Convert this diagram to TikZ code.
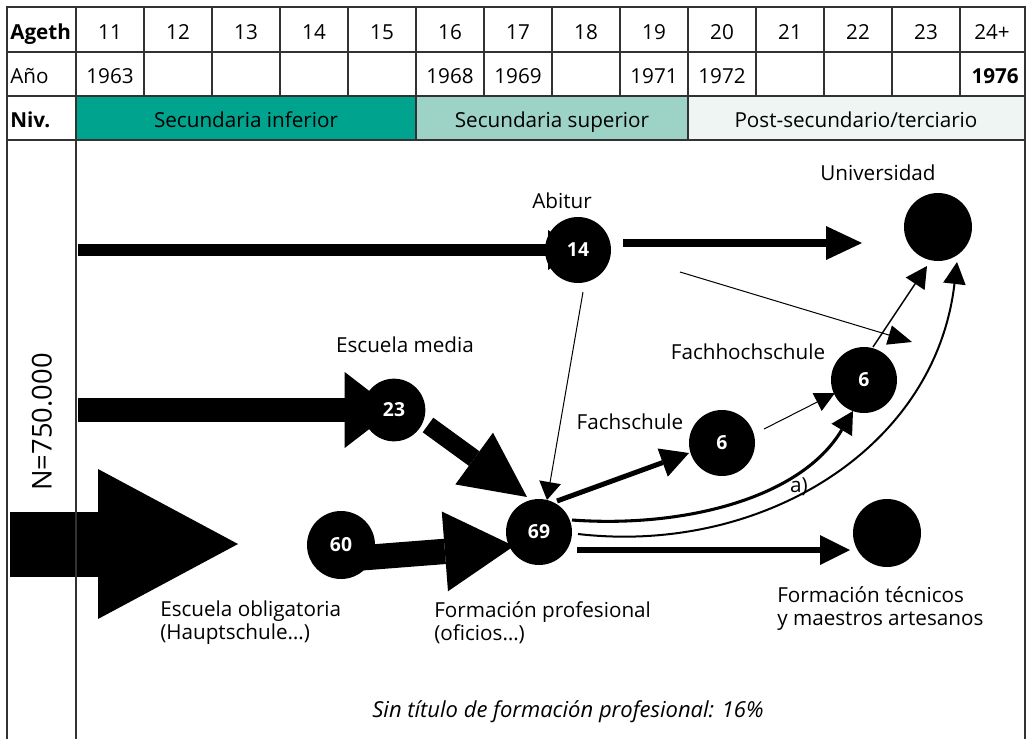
\documentclass[tikz,border=0pt]{standalone}
\usepackage{fontspec}
\setmainfont{Open Sans}
\usetikzlibrary{arrows.meta,calc,backgrounds}
\definecolor{tealA}{RGB}{0,163,141}
\definecolor{tealB}{RGB}{157,211,198}
\definecolor{tealC}{RGB}{238,245,242}
\definecolor{gridc}{RGB}{50,50,50}
\begin{document}
\begin{tikzpicture}[x=0.75pt,y=-0.75pt,
  grid/.style={draw=gridc,line width=0.9pt},
  cell/.style={font=\fontsize{15.5}{18}\selectfont,inner sep=0pt,anchor=base},
  lbl/.style={font=\fontsize{15.5}{17.25}\selectfont,align=left,inner sep=0pt,anchor=base},
  dot/.style={circle,fill=black,minimum size=49.5pt,inner sep=0pt,text=white,font=\bfseries\fontsize{14.5}{16}\selectfont},
  tip/.style n args={2}{-{Triangle[length=#1,width=#2,line width=0pt]}}
]
\useasboundingbox (0,0) rectangle (1028,739);
% table fills
\fill[tealA] (76,96) rectangle (416,140);
\fill[tealB] (416,96) rectangle (688,140);
\fill[tealC] (688,96) rectangle (1025,140);
% grid
\draw[grid] (7,739) -- (7,7) -- (1025,7) -- (1025,739);
\draw[grid] (7,52) -- (1025,52);
\draw[grid] (7,96) -- (1025,96);
\draw[grid] (7,140) -- (1025,140);
\draw[grid] (76,7) -- (76,739);
\foreach \x in {144,212,...,960} \draw[grid] (\x,7) -- (\x,96);
\draw[grid] (416,96) -- (416,140);
\draw[grid] (688,96) -- (688,140);
% row headers
\node[cell,anchor=base west,font=\bfseries\fontsize{15.5}{18}\selectfont] (hAge) at (10,39) {Ageth};
\node[cell,anchor=base west] (hAno) at (10,83) {Año};
\node[cell,anchor=base west,font=\bfseries\fontsize{15.5}{18}\selectfont] (hNiv) at (10,127) {Niv.};
% ages
\foreach \a [count=\i from 0] in {11,12,...,23} {
  \node[cell] (age\a) at (110+68*\i,39) {\a};
}
\node[cell] (age24) at (992,39) {24+};
% years
\node[cell] (y63) at (110,83) {1963};
\node[cell] (y68) at (450,83) {1968};
\node[cell] (y69) at (518,83) {1969};
\node[cell] (y71) at (654,83) {1971};
\node[cell] (y72) at (722,83) {1972};
\node[cell,anchor=base east,font=\bfseries\fontsize{15.5}{18}\selectfont] (y76) at (1019,83) {1976};
% levels
\node[cell] (lv1) at (246,127) {Secundaria inferior};
\node[cell] (lv2) at (552,127) {Secundaria superior};
\node[cell] (lv3) at (856,127) {Post-secundario/terciario};
% side label
\node[rotate=90,inner sep=0pt,font=\fontsize{20.5}{24}\selectfont] (nlab) at (42,422) {N=750.000};
% circles
\node[dot] (n14) at (578,250) {14};
\node[dot,minimum size=51pt] (uni) at (938,227) {};
\node[dot] (fh) at (864,380) {6};
\node[dot] (fs) at (722,443) {6};
\node[dot] (n69) at (539,532) {69};
\node[dot,minimum size=51pt] (ft) at (887,533) {};
\node[dot,minimum size=47pt] (n23) at (394,410) {23};
\node[dot,minimum size=51pt] (n60) at (341,545) {60};
% labels
\node[lbl] (lAbi) at (562,208) {Abitur};
\node[lbl] (lUni) at (878,180) {Universidad};
\node[lbl] (lEm) at (405,352) {Escuela media};
\node[lbl] (lFh) at (748,359) {Fachhochschule};
\node[lbl] (lFs) at (630,429) {Fachschule};
\node[lbl,anchor=north west] (lOb) at (160,601) {Escuela obligatoria\\(Hauptschule…)};
\node[lbl,anchor=north west] (lFp) at (434,601) {Formación profesional\\(oficios…)};
\node[lbl,anchor=north west] (lFt) at (777,586) {Formación técnicos\\y maestros artesanos};
\node[lbl] (la) at (799,492) {a)};
\node[lbl,font=\itshape\fontsize{16.5}{18}\selectfont] (lSin) at (568,717) {Sin título de formación profesional: 16\%};
% free ends
\coordinate (a0) at (78,250);
\coordinate (m0) at (78,410);
\coordinate (ob1) at (10,544);
\coordinate (ob2) at (238,544);
\begin{scope}[on background layer]
\fill[white] (0,0) rectangle (1028,739);
\draw[line width=48.75pt,tip={105pt}{112.5pt}] (ob1) -- (ob2);
\draw[line width=9pt,tip={22.5pt}{30pt}] (a0) -- (n14.center);
\draw[line width=18pt,tip={37pt}{57pt}] (m0) -- (n23.center);
\draw[line width=6pt,tip={27pt}{25.5pt}] ($(n14)+(45,-7)$) -- ($(uni)+(-76,16)$);
\draw[line width=0.75pt,tip={18pt}{15pt}] ($(n14)+(102,22)$) -- ($(fh)+(48,-38)$);
\draw[line width=0.75pt,tip={13.5pt}{16.5pt}] ($(n14)+(5,42)$) -- ($(n69)+(8,-32)$);
\draw[line width=1.1pt,tip={16pt}{17pt}] ($(fh)+(9,-33)$) -- ($(uni)+(-11,39)$);
\draw[line width=0.75pt,tip={15pt}{15pt}] ($(fs)+(42,-14)$) -- ($(fh)+(-29,13)$);
\draw[line width=2.3pt,tip={16.5pt}{18pt}] ($(n69)+(33,-12)$) .. controls (680,528) and (800,500) .. ($(fh)+(-11,31)$);
\draw[line width=1.5pt,tip={16.5pt}{17pt}] ($(n69)+(39,2)$) .. controls (760,555) and (935,450) .. ($(uni)+(19,35)$);
\draw[line width=3.75pt,tip={21pt}{22.5pt}] ($(n69)+(18,-31)$) -- ($(fs)+(-33,10)$);
\draw[line width=4.5pt,tip={22.5pt}{22.5pt}] ($(n69)+(38,18)$) -- ($(ft)+(-37,17)$);
\draw[line width=13.5pt,tip={49pt}{48pt}] ($(n23)+(34,15)$) -- ($(n69)+(-12,-35)$);
\draw[line width=19pt,tip={52pt}{60pt}] ($(n60)+(19,13)$) -- ($(n69)+(-25,14)$);
\end{scope}
\end{tikzpicture}
\end{document}
